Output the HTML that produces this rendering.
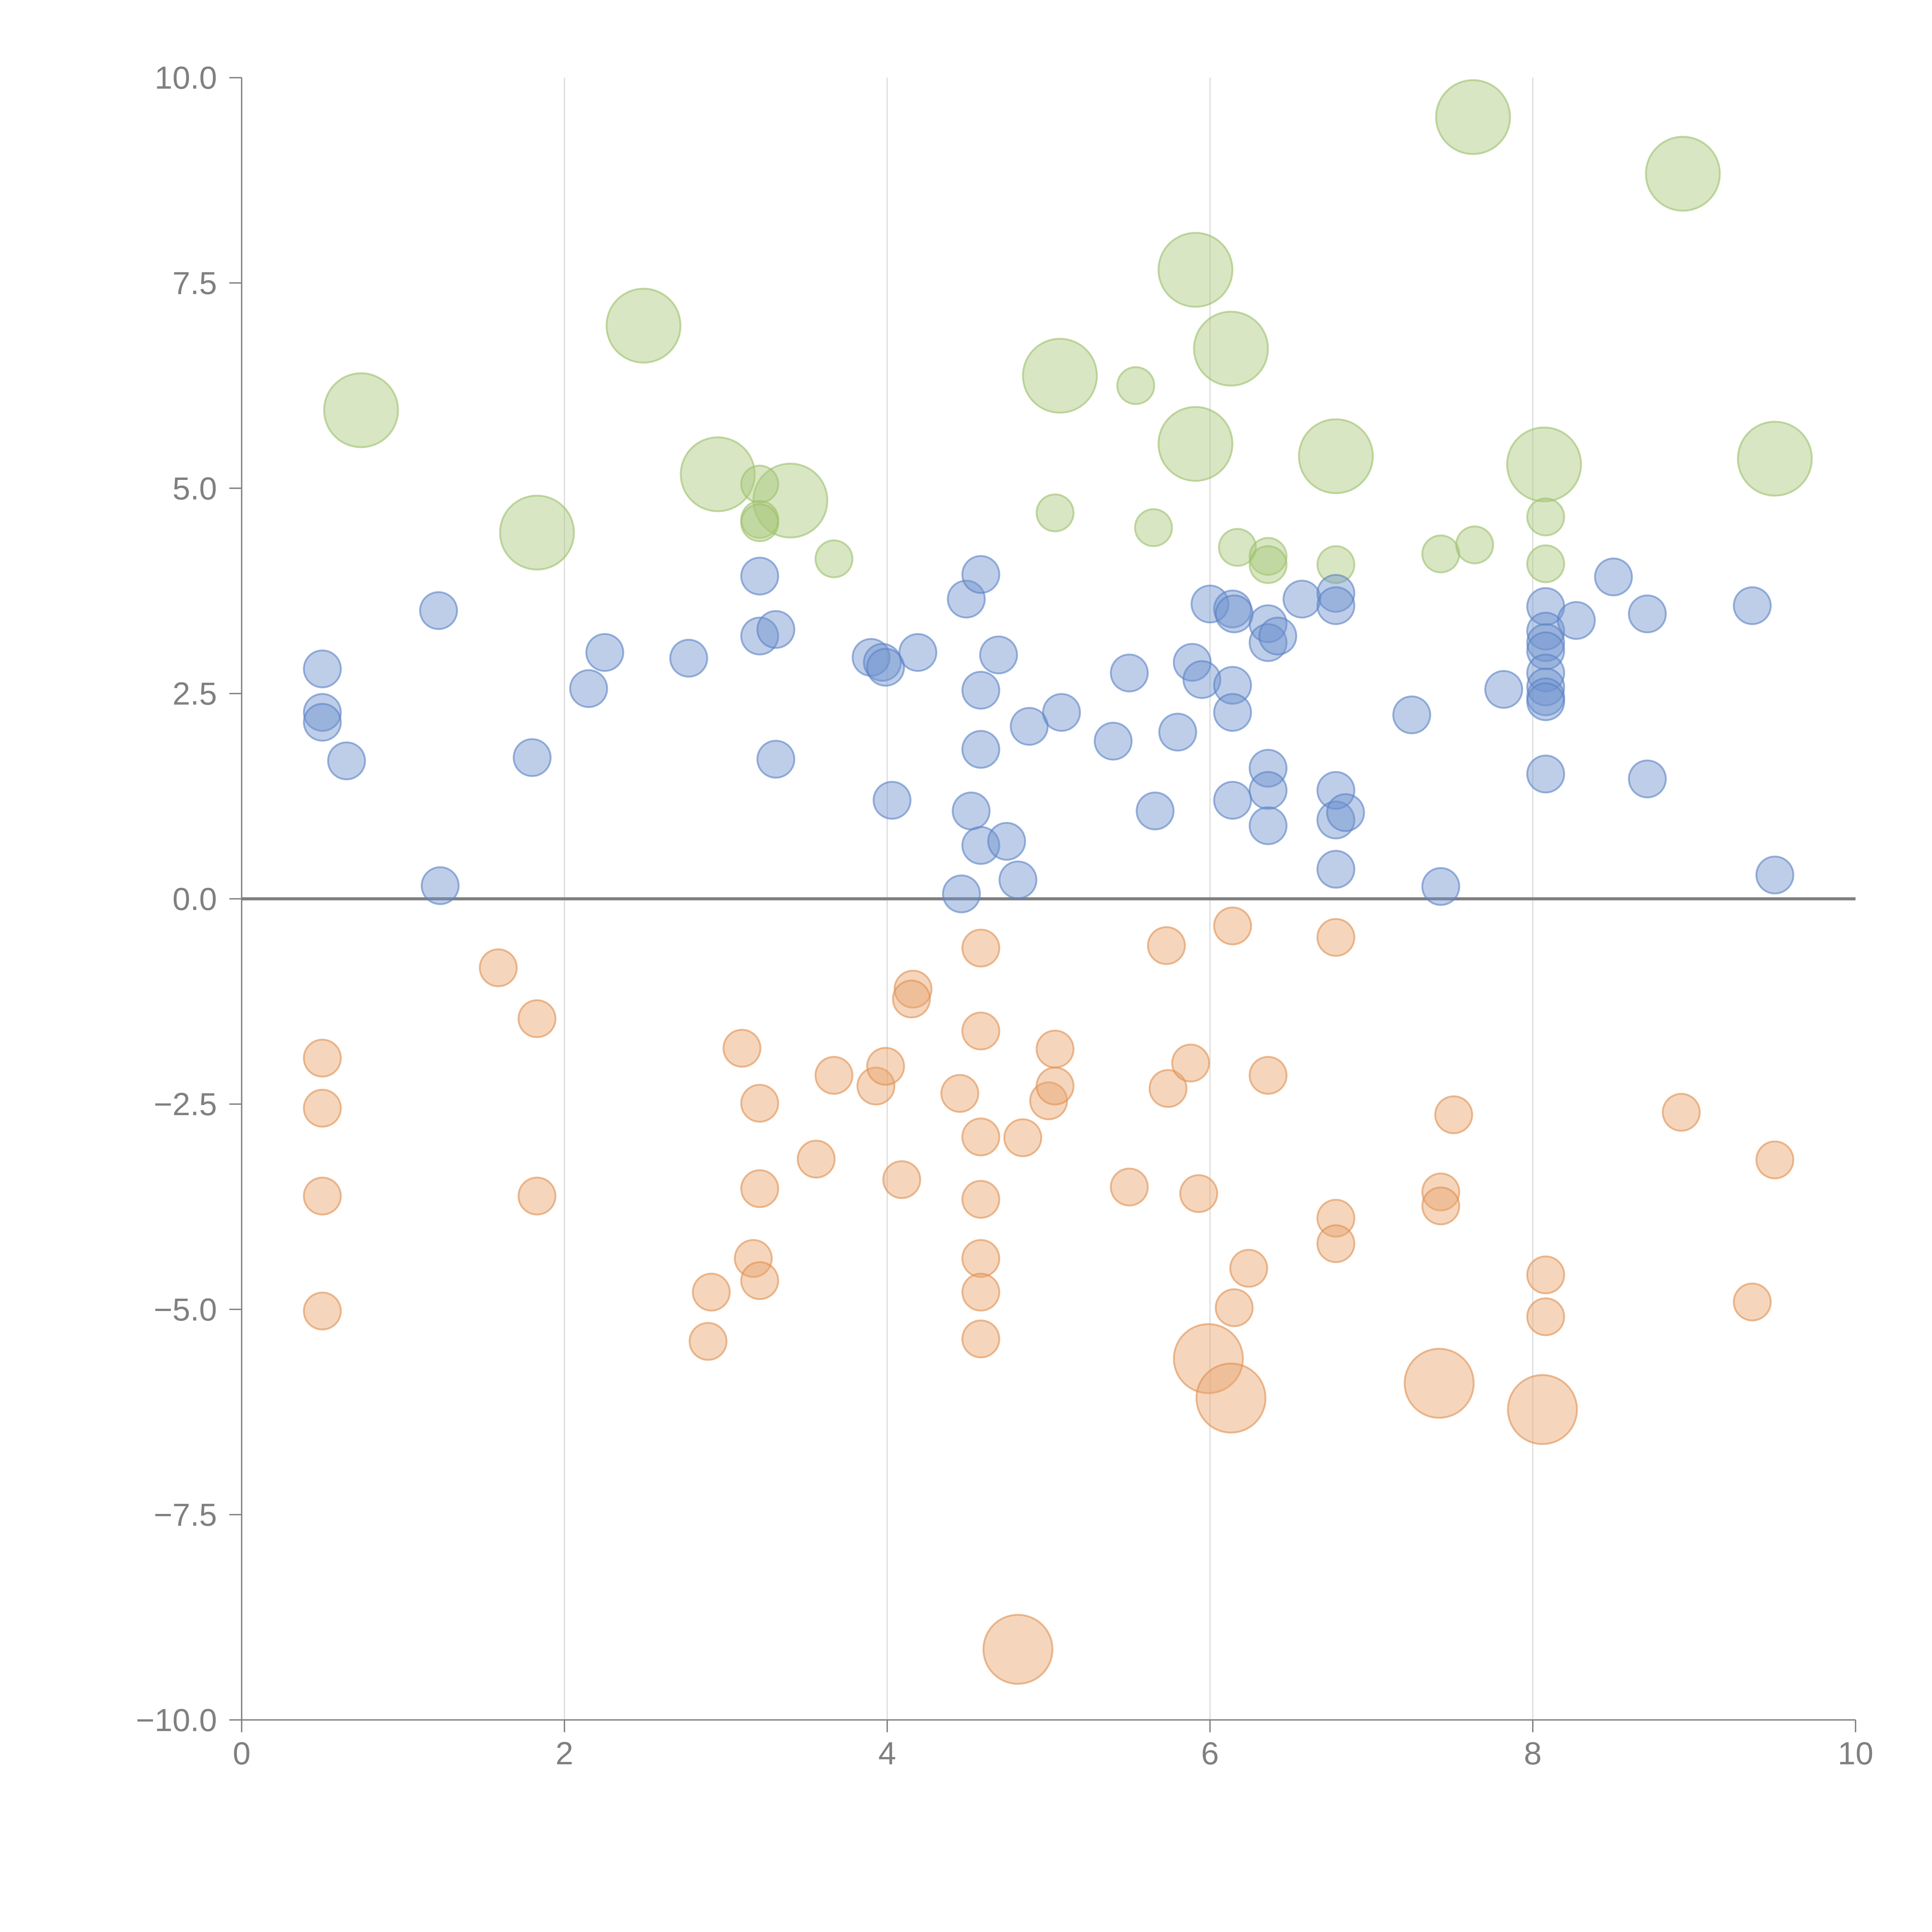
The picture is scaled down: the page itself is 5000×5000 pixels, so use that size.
<!DOCTYPE html>
<html><head><meta charset="utf-8"><style>
html,body{margin:0;padding:0;background:#fff}
svg{display:block}
text{font-family:"Liberation Sans",sans-serif;fill:#808080;font-size:26px}
</style></head><body>
<svg id="chart" width="5000" height="5000" viewBox="0 0 1567 1567" xmlns="http://www.w3.org/2000/svg">
<g id="grid"></g>
<g id="axes"></g>
<g id="marks"></g>
</svg>
<script>
const xTicks=[0,2,4,6,8,10];
const yTicks=[-10,-7.5,-5,-2.5,0,2.5,5,7.5,10];
const blueX=[0.5,0.5,0.5,0.65,1.22,1.23,1.8,2.15,2.25,2.77,3.21,3.21,3.31,3.31,3.9,3.97,3.99,4.19,4.03,4.49,4.58,4.69,4.58,4.58,4.52,4.58,4.74,4.46,4.81,4.88,5.08,5.4,5.5,5.66,5.8,5.89,5.95,6.0,6.14,6.15,6.14,6.14,6.14,6.36,6.36,6.42,6.36,6.36,6.36,6.57,6.78,6.78,6.78,6.78,6.84,6.78,7.25,7.43,7.82,8.08,8.08,8.08,8.08,8.08,8.08,8.08,8.08,8.08,8.27,8.5,8.71,8.71,9.36,9.5];
const blueY=[2.8,2.27,2.15,1.68,3.51,0.16,1.72,2.56,3.0,2.93,3.93,3.2,3.28,1.7,2.94,2.88,2.82,3.0,1.2,3.65,3.95,2.97,2.54,1.82,1.07,0.65,0.7,0.06,0.23,2.1,2.27,1.92,2.75,1.07,2.03,2.88,2.67,3.59,3.53,3.47,2.6,2.27,1.2,3.35,3.12,3.2,1.59,1.32,0.89,3.65,3.72,3.57,1.32,0.96,1.05,0.36,2.24,0.15,2.55,3.56,3.26,3.12,3.02,2.75,2.58,2.46,2.4,1.52,3.39,3.92,3.47,1.46,3.57,0.29];
const orangeX=[0.5,0.5,0.5,0.5,1.59,1.83,1.83,2.91,2.89,3.1,3.17,3.21,3.21,3.21,3.56,3.67,3.93,3.99,4.09,4.16,4.15,4.45,4.58,4.58,4.58,4.58,4.58,4.58,4.58,4.84,5.0,5.04,5.04,5.5,5.73,5.74,5.88,5.93,6.14,6.15,6.24,6.36,6.78,6.78,6.78,7.43,7.43,7.51,8.08,8.08,8.92,9.36,9.5,4.81,5.99,6.13,7.42,8.06];
const orangeY=[-1.94,-2.55,-3.62,-5.02,-0.84,-1.46,-3.62,-4.79,-5.39,-1.82,-4.38,-2.49,-3.53,-4.65,-3.17,-2.15,-2.28,-2.04,-3.42,-1.1,-1.22,-2.37,-0.6,-1.61,-2.9,-3.66,-4.38,-4.79,-5.36,-2.91,-2.46,-1.83,-2.28,-3.51,-0.57,-2.31,-2.0,-3.59,-0.33,-4.98,-4.5,-2.15,-0.47,-3.89,-4.2,-3.57,-3.74,-2.63,-4.58,-5.09,-2.6,-4.91,-3.18,-9.14,-5.6,-6.08,-5.9,-6.22];
const orangeBig=[0,0,0,0,0,0,0,0,0,0,0,0,0,0,0,0,0,0,0,0,0,0,0,0,0,0,0,0,0,0,0,0,0,0,0,0,0,0,0,0,0,0,0,0,0,0,0,0,0,0,0,0,0,1,1,1,1,1];
const greenX=[0.74,1.83,2.49,2.95,3.4,5.07,5.91,5.91,6.13,6.78,7.63,8.07,8.93,9.5,3.21,3.21,3.21,3.67,5.04,5.54,5.65,6.17,6.36,6.36,6.78,7.43,7.64,8.08,8.08];
const greenY=[5.95,4.46,6.98,5.17,4.85,6.37,7.66,5.54,6.7,5.39,9.52,5.29,8.83,5.36,5.05,4.62,4.58,4.14,4.7,6.25,4.52,4.28,4.17,4.07,4.07,4.2,4.31,4.65,4.08];
const greenBig=[1,1,1,1,1,1,1,1,1,1,1,1,1,1,0,0,0,0,0,0,0,0,0,0,0,0,0,0,0];

const NS="http://www.w3.org/2000/svg";
const X0=196,X1=1505,Y0=1395,Y1=63;
const sx=v=>X0+(v-0)/(10-0)*(X1-X0);
const sy=v=>Y0-(v+10)/20*(Y0-Y1);
function mk(tag,attrs,parent){const e=document.createElementNS(NS,tag);for(const k in attrs)e.setAttribute(k,attrs[k]);parent.appendChild(e);return e;}
const grid=document.getElementById('grid'),axes=document.getElementById('axes'),marks=document.getElementById('marks');
xTicks.forEach(t=>{
  if(t>0&&t<10){const g=mk('line',{x1:sx(t),x2:sx(t),y1:Y1,y2:Y0,stroke:'#ddd','stroke-width':1},grid);
  
  }
  const tk=mk('line',{x1:sx(t),x2:sx(t),y1:Y0,y2:Y0+10,stroke:'#808080','stroke-width':1.1},axes);
  
  
  const tx=mk('text',{x:sx(t),y:Y0+36,'text-anchor':'middle'},axes);tx.textContent=String(t);
  
  
});
yTicks.forEach(t=>{
  const tk=mk('line',{x1:X0-10,x2:X0,y1:sy(t),y2:sy(t),stroke:'#808080','stroke-width':1.1},axes);
  
  
  const tx=mk('text',{x:X0-20,y:sy(t)+9,'text-anchor':'end'},axes);tx.textContent=(t<0?'\u2212':'')+Math.abs(t).toFixed(1);
  
  
});
const ya=mk('line',{x1:X0,x2:X0,y1:Y1,y2:Y0,stroke:'#808080','stroke-width':1.1},axes);


const xa=mk('line',{x1:X0,x2:X1,y1:Y0,y2:Y0,stroke:'#808080','stroke-width':1.1},axes);


function series(xs,ys,big,fill,stroke,name,rb){
  xs.forEach((x,i)=>{
    const r=big&&big[i]?rb:15;
    const c=mk('circle',{cx:sx(x),cy:sy(ys[i]),r:r,fill:fill,'fill-opacity':0.45,stroke:stroke,'stroke-opacity':0.6,'stroke-width':1.5},marks);
    
    
  });
}
series(greenX,greenY,greenBig,'#a9c87a','#9cc06a','green-bubble',30);
series(blueX,blueY,null,'#6f93cf','#5a82c4','blue-bubble',15);
series(orangeX,orangeY,orangeBig,'#e9a46c','#e08f50','orange-bubble',28);
const z=mk('line',{x1:X0,x2:X1,y1:sy(0),y2:sy(0),stroke:'#808080','stroke-width':2.5},axes);


</script>
</body></html>
